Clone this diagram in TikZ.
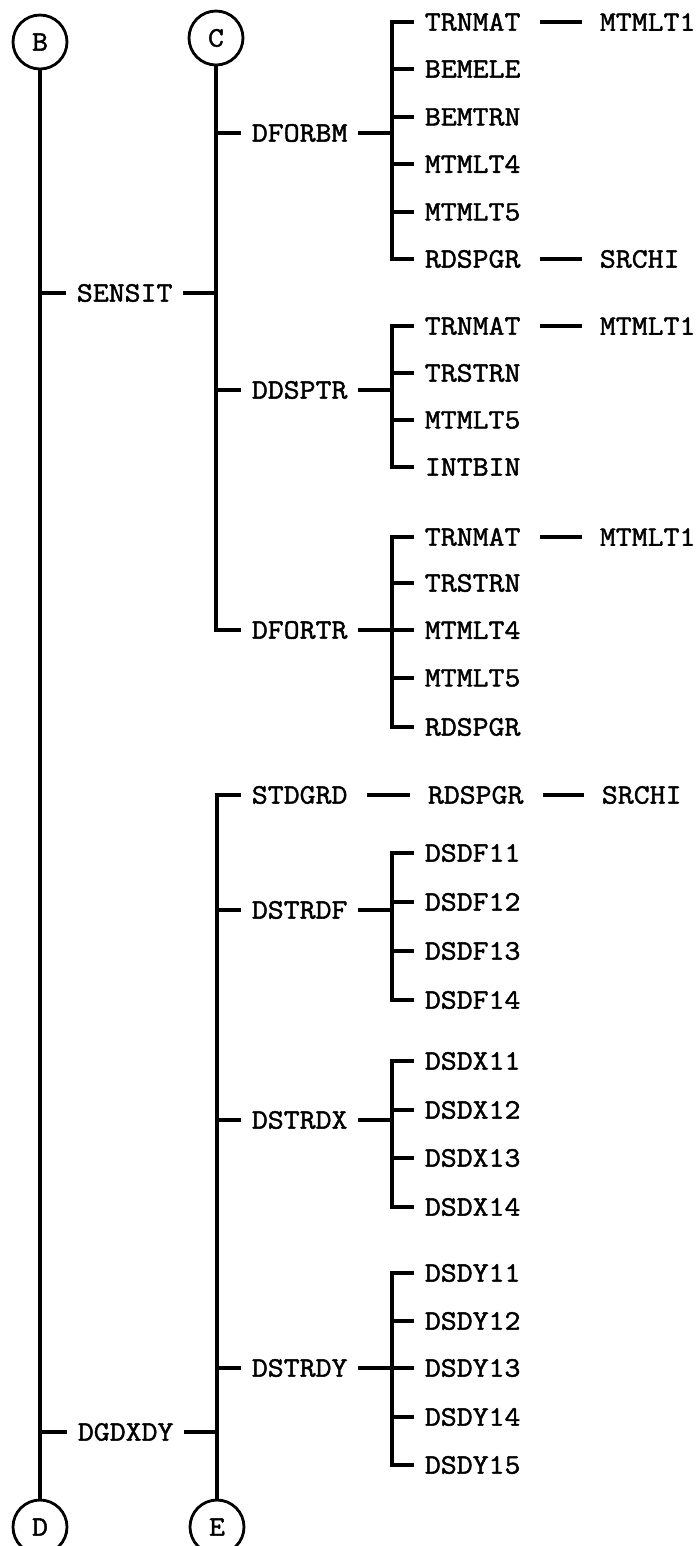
\documentclass[tikz,border=0pt]{standalone}
\usepackage{fontspec}
\newfontfamily\typer[FakeBold=1.6, FakeStretch=1.1]{Latin Modern Mono}
\usetikzlibrary{positioning}

\tikzset{
  lbl/.style={anchor=west, inner xsep=6pt, inner ysep=1pt,
    font=\typer\fontsize{16}{18}\selectfont},
  conn/.style={line width=2.2pt},
  link/.style={conn, shorten <=5pt, shorten >=4pt},
  offpage/.style={circle, draw, line width=1.6pt, minimum size=1.08cm,
    inner sep=0pt, font=\typer\fontsize{16}{18}\selectfont}
}

\begin{document}
\begin{tikzpicture}[x=0.02cm, y=-0.02cm]
  \useasboundingbox (0,0) rectangle (699,1546);

  \node[offpage] (B) at (40,42) {B};
  \node[offpage] (C) at (216,38) {C};
  \node[offpage] (D) at (40,1527) {D};
  \node[offpage] (E) at (217,1527) {E};

  \node[lbl] (sensit) at (66,293) {SENSIT};
  \node[lbl] (dgdxdy) at (67,1432) {DGDXDY};

  \node[lbl] (dforbm) at (241,133) {DFORBM};
  \node[lbl] (ddsptr) at (241,390) {DDSPTR};
  \node[lbl] (dfortr) at (241,630) {DFORTR};
  \node[lbl] (stdgrd) at (241,795) {STDGRD};
  \node[lbl] (dstrdf) at (241,910) {DSTRDF};
  \node[lbl] (dstrdx) at (241,1120) {DSTRDX};
  \node[lbl] (dstrdy) at (241,1368) {DSTRDY};

  % DFORBM
  \node[lbl] (fa1) at (414,22) {TRNMAT};
  \node[lbl] (fa2) at (414,69) {BEMELE};
  \node[lbl] (fa3) at (414,117) {BEMTRN};
  \node[lbl] (fa4) at (414,164) {MTMLT4};
  \node[lbl] (fa5) at (414,212) {MTMLT5};
  \node[lbl] (fa6) at (414,259) {RDSPGR};
  \node[lbl] (fa1x) at (589,22) {MTMLT1};
  \node[lbl] (fa6x) at (589,259) {SRCHI};

  % DDSPTR
  \node[lbl] (dd1) at (414,326) {TRNMAT};
  \node[lbl] (dd2) at (414,373) {TRSTRN};
  \node[lbl] (dd3) at (414,420) {MTMLT5};
  \node[lbl] (dd4) at (414,467) {INTBIN};
  \node[lbl] (dd1x) at (589,326) {MTMLT1};

  % DFORTR
  \node[lbl] (ft1) at (414,537) {TRNMAT};
  \node[lbl] (ft2) at (414,583) {TRSTRN};
  \node[lbl] (ft3) at (414,630) {MTMLT4};
  \node[lbl] (ft4) at (414,678) {MTMLT5};
  \node[lbl] (ft5) at (414,727) {RDSPGR};
  \node[lbl] (ft1x) at (589,537) {MTMLT1};

  % STDGRD
  \node[lbl] (sg1) at (417,795) {RDSPGR};
  \node[lbl] (sg2) at (591,795) {SRCHI};

  % DSTRDF
  \node[lbl] (df1) at (414,853) {DSDF11};
  \node[lbl] (df2) at (414,902) {DSDF12};
  \node[lbl] (df3) at (414,951) {DSDF13};
  \node[lbl] (df4) at (414,1000) {DSDF14};

  % DSTRDX
  \node[lbl] (dx1) at (414,1061) {DSDX11};
  \node[lbl] (dx2) at (414,1110) {DSDX12};
  \node[lbl] (dx3) at (414,1158) {DSDX13};
  \node[lbl] (dx4) at (414,1207) {DSDX14};

  % DSTRDY
  \node[lbl] (dy1) at (414,1273) {DSDY11};
  \node[lbl] (dy2) at (414,1321) {DSDY12};
  \node[lbl] (dy3) at (414,1368) {DSDY13};
  \node[lbl] (dy4) at (414,1417) {DSDY14};
  \node[lbl] (dy5) at (414,1465) {DSDY15};

  \coordinate (bar) at (392,0);

  % main lines
  \draw[conn] (B.south) -- (D.north);
  \draw[conn] (B |- sensit.west) -- (sensit.west);
  \draw[conn] (B |- dgdxdy.west) -- (dgdxdy.west);
  \draw[conn] (sensit.east) -- (C |- sensit.east);
  \draw[conn] (dgdxdy.east) -- (E |- dgdxdy.east);

  \draw[conn] (C.south) -- (C |- dfortr.west) -- (dfortr.west);
  \draw[conn] (C |- dforbm.west) -- (dforbm.west);
  \draw[conn] (C |- ddsptr.west) -- (ddsptr.west);

  \draw[conn] (stdgrd.west) -- (E |- stdgrd.west) -- (E.north);
  \draw[conn] (E |- dstrdf.west) -- (dstrdf.west);
  \draw[conn] (E |- dstrdx.west) -- (dstrdx.west);
  \draw[conn] (E |- dstrdy.west) -- (dstrdy.west);

  % brackets
  \draw[conn] (fa1.west) -- (bar |- fa1.west) -- (bar |- fa6.west) -- (fa6.west);
  \foreach \n in {fa2,fa3,fa4,fa5} \draw[conn] (bar |- \n.west) -- (\n.west);
  \draw[conn] (dforbm.east) -- (bar |- dforbm.east);

  \draw[conn] (dd1.west) -- (bar |- dd1.west) -- (bar |- dd4.west) -- (dd4.west);
  \foreach \n in {dd2,dd3} \draw[conn] (bar |- \n.west) -- (\n.west);
  \draw[conn] (ddsptr.east) -- (bar |- ddsptr.east);

  \draw[conn] (ft1.west) -- (bar |- ft1.west) -- (bar |- ft5.west) -- (ft5.west);
  \foreach \n in {ft2,ft3,ft4} \draw[conn] (bar |- \n.west) -- (\n.west);
  \draw[conn] (dfortr.east) -- (bar |- dfortr.east);

  \draw[conn] (df1.west) -- (bar |- df1.west) -- (bar |- df4.west) -- (df4.west);
  \foreach \n in {df2,df3} \draw[conn] (bar |- \n.west) -- (\n.west);
  \draw[conn] (dstrdf.east) -- (bar |- dstrdf.east);

  \draw[conn] (dx1.west) -- (bar |- dx1.west) -- (bar |- dx4.west) -- (dx4.west);
  \foreach \n in {dx2,dx3} \draw[conn] (bar |- \n.west) -- (\n.west);
  \draw[conn] (dstrdx.east) -- (bar |- dstrdx.east);

  \draw[conn] (dy1.west) -- (bar |- dy1.west) -- (bar |- dy5.west) -- (dy5.west);
  \foreach \n in {dy2,dy3,dy4} \draw[conn] (bar |- \n.west) -- (\n.west);
  \draw[conn] (dstrdy.east) -- (bar |- dstrdy.east);

  % third level
  \draw[link] (fa1) -- (fa1x);
  \draw[link] (fa6) -- (fa6x);
  \draw[link] (dd1) -- (dd1x);
  \draw[link] (ft1) -- (ft1x);
  \draw[link] (stdgrd) -- (sg1);
  \draw[link] (sg1) -- (sg2);
\end{tikzpicture}
\end{document}
